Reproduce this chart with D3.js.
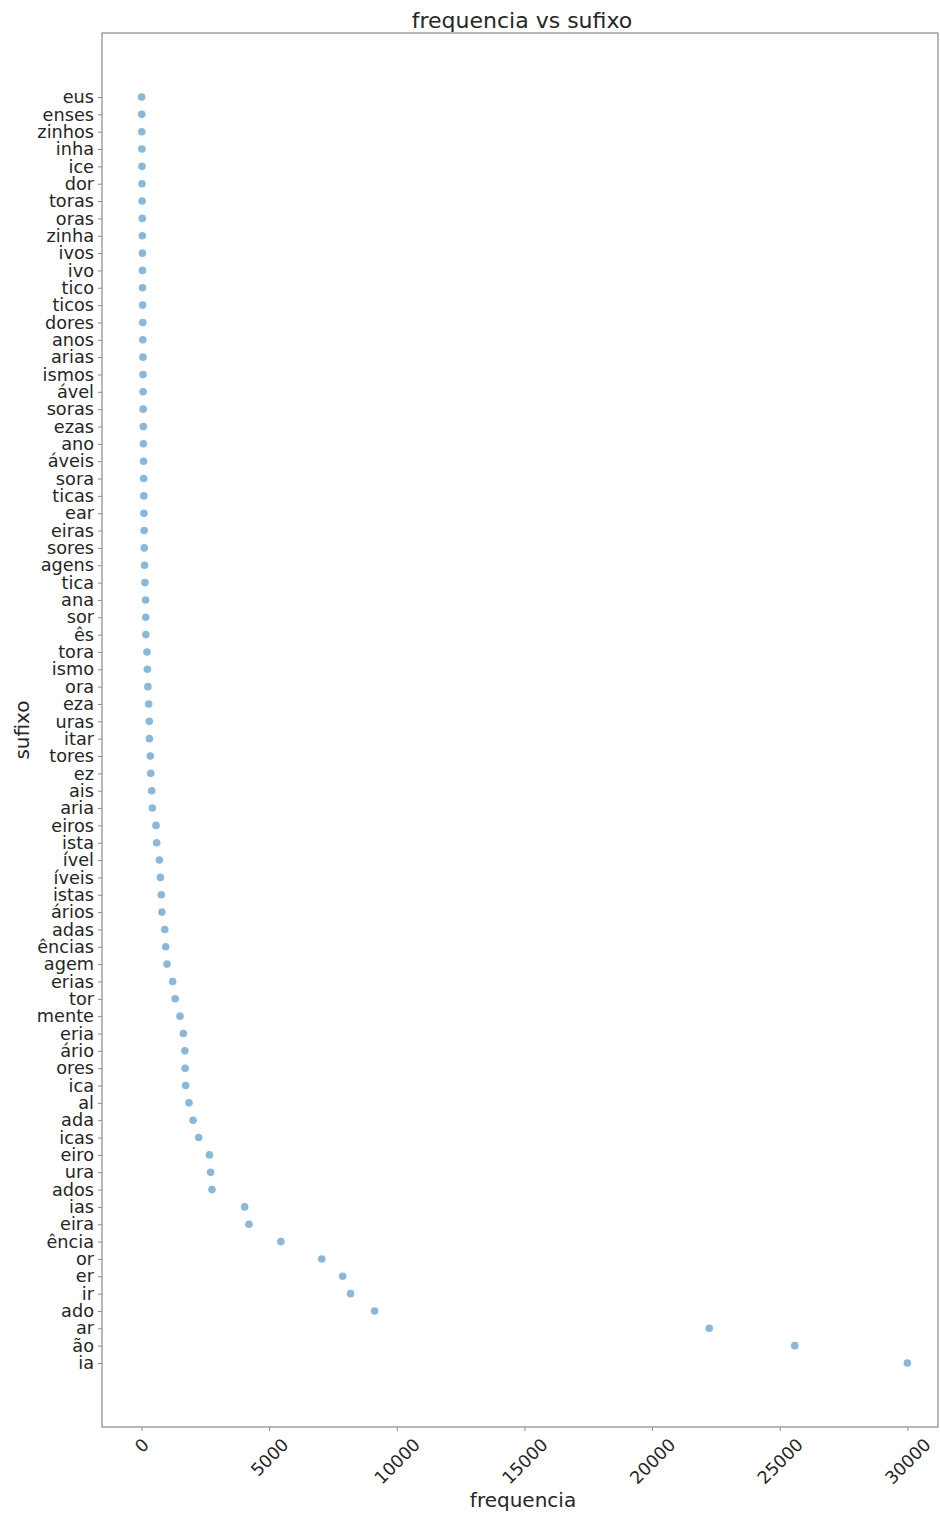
<!DOCTYPE html>
<html>
<head>
<meta charset="utf-8">
<script src="https://cdn.jsdelivr.net/npm/d3@7"></script>
<style>
  html, body { margin: 0; padding: 0; background: #fff; }
  svg { display: block; font-family: "DejaVu Sans", sans-serif; }
</style>
</head>
<body>
<svg id="chart" width="940" height="1515"></svg>
<script>
// Suffixes, top to bottom
const sufixos = [
  "eus","enses","zinhos","inha","ice","dor","toras","oras","zinha","ivos",
  "ivo","tico","ticos","dores","anos","arias","ismos","ável","soras","ezas",
  "ano","áveis","sora","ticas","ear","eiras","sores","agens","tica","ana",
  "sor","ês","tora","ismo","ora","eza","uras","itar","tores","ez",
  "ais","aria","eiros","ista","ível","íveis","istas","ários","adas","ências",
  "agem","erias","tor","mente","eria","ário","ores","ica","al","ada",
  "icas","eiro","ura","ados","ias","eira","ência","or","er","ir",
  "ado","ar","ão","ia"
];

// Occurrence count for each suffix
const frequencias = [
  5, 10, 12, 15, 18, 20, 25, 30, 33, 36,
  38, 40, 45, 50, 52, 55, 60, 62, 66, 70,
  75, 80, 85, 90, 95, 105, 110, 120, 135, 160,
  165, 170, 215, 230, 250, 280, 305, 310, 345, 360,
  400, 425, 570, 595, 700, 740, 775, 800, 910, 950,
  1000, 1220, 1320, 1510, 1640, 1700, 1710, 1730, 1860, 2020,
  2240, 2660, 2710, 2760, 4040, 4210, 5460, 7060, 7880, 8190,
  9130, 22240, 25590, 30000
];

const xTicks = [0, 5000, 10000, 15000, 20000, 25000, 30000];

const pontos = sufixos.map((s, i) => ({ sufixo: s, freq: frequencias[i] }));

const plotLeft = 102, plotRight = 938, plotTop = 33, plotBottom = 1427;
const svg = d3.select("#chart");

const x = d3.scaleLinear().domain([-1547, 31200]).range([plotLeft, plotRight]);
const y = d3.scalePoint().domain(sufixos).range([97, 1363]);

const textColor = "#262626";
const spineColor = "#8a8a8a";

// Frame
svg.append("rect")
  .attr("x", plotLeft).attr("y", plotTop)
  .attr("width", plotRight - plotLeft).attr("height", plotBottom - plotTop)
  .attr("fill", "none").attr("stroke", spineColor).attr("stroke-width", 1.2);

// Y axis
const yAxis = svg.append("g")
  .attr("transform", `translate(${plotLeft},0)`)
  .call(d3.axisLeft(y).tickSize(4).tickPadding(4));
yAxis.select(".domain").remove();
yAxis.selectAll(".tick line").attr("stroke", spineColor);
yAxis.selectAll(".tick text")
  .attr("fill", textColor)
  .style("font-size", "17.7px")
  .style("font-family", "'DejaVu Sans', sans-serif");

// X axis
const xAxis = svg.append("g")
  .attr("transform", `translate(0,${plotBottom})`)
  .call(d3.axisBottom(x).tickValues(xTicks).tickFormat(d3.format("d")).tickSize(4));
xAxis.select(".domain").remove();
xAxis.selectAll(".tick line").attr("stroke", spineColor);
xAxis.selectAll(".tick text")
  .attr("fill", textColor)
  .style("font-size", "17.5px")
  .style("font-family", "'DejaVu Sans', sans-serif")
  .attr("text-anchor", "middle")
  .attr("dominant-baseline", "central")
  .attr("dy", null)
  .each(function() {
    const w = this.getComputedTextLength();
    const h = 13;
    const half = (w + h) / (2 * Math.SQRT2);
    d3.select(this).attr("y", null)
      .attr("transform", `translate(0,${10 + half}) rotate(-45)`);
  });

// Points
svg.append("g")
  .selectAll("circle")
  .data(pontos)
  .join("circle")
  .attr("cx", d => x(d.freq))
  .attr("cy", d => y(d.sufixo))
  .attr("r", 3.8)
  .attr("fill", "#1f77b4")
  .attr("fill-opacity", 0.52);

// Title and axis labels
svg.append("text")
  .attr("x", (plotLeft + plotRight) / 2 + 2).attr("y", 28)
  .attr("text-anchor", "middle")
  .attr("fill", textColor)
  .style("font-size", "22px")
  .text("frequencia vs sufixo");

svg.append("text")
  .attr("x", (plotLeft + plotRight) / 2 + 3).attr("y", 1507)
  .attr("text-anchor", "middle")
  .attr("fill", textColor)
  .style("font-size", "20px")
  .text("frequencia");

svg.append("text")
  .attr("transform", `translate(29,${(plotTop + plotBottom) / 2}) rotate(-90)`)
  .attr("text-anchor", "middle")
  .attr("fill", textColor)
  .style("font-size", "20px")
  .text("sufixo");
</script>
</body>
</html>
